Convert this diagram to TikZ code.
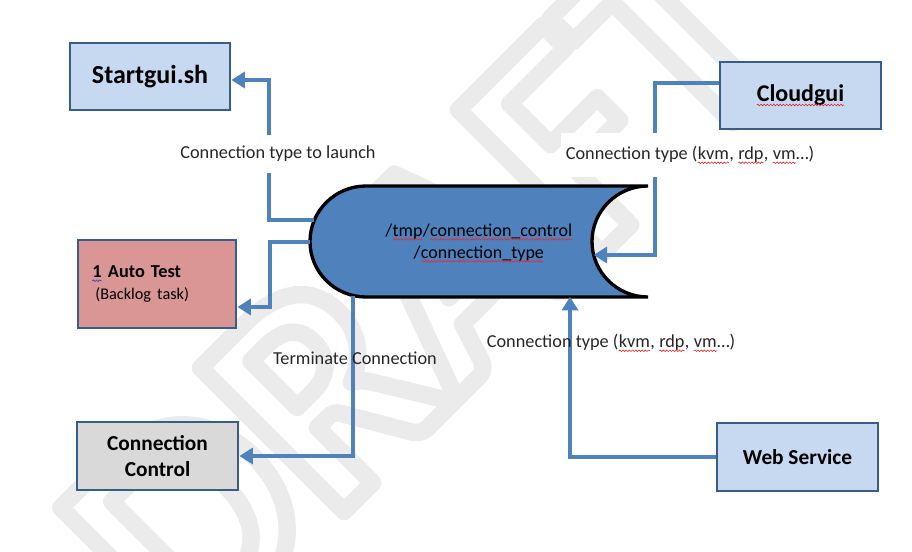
\documentclass[tikz,border=0pt]{standalone}
\usepackage{fontspec}
\setmainfont{Carlito}
\usetikzlibrary{arrows.meta,calc,decorations.pathmorphing}
\definecolor{boxblue}{HTML}{C6D9F1}
\definecolor{boxline}{HTML}{385D8A}
\definecolor{pinkfill}{HTML}{D99694}
\definecolor{grayfill}{HTML}{D9D9D9}
\definecolor{cylfill}{HTML}{4F81BD}
\definecolor{connblue}{HTML}{4F81BD}
\definecolor{wmgray}{HTML}{EBEBEB}
\definecolor{lbltext}{HTML}{262626}
\definecolor{squigred}{HTML}{E8282A}
\definecolor{squigblue}{HTML}{2E3FD6}
\newcommand\wvy[2][squigred]{\tikz[baseline=(wv.base)]{\node[inner sep=0pt,outer sep=0pt,text width=,minimum width=0pt,minimum height=0pt,draw=none,fill=none,shape=rectangle] (wv) {#2};\draw[#1,line width=0.45pt,decorate,decoration={snake,amplitude=0.6pt,segment length=2.4pt}] ([yshift=-2.4pt]wv.base west) -- ([yshift=-2.4pt]wv.base east);}}
\newcommand\outlinetext[1]{\special{pdf:literal direct 1 Tr 13 w 1 j}#1\special{pdf:literal direct 0 Tr}}
\begin{document}
\begin{tikzpicture}[x=0.75pt,y=-0.75pt,
  box/.style={draw=boxline,line width=2.2pt,fill=boxblue,inner sep=0pt},
  conn/.style={draw=connblue,line width=3pt,-{Triangle[length=10pt,width=12pt]}},
  lbl/.style={font=\fontsize{13.7}{16.5}\selectfont,text=lbltext,inner sep=2pt},
  ]
\useasboundingbox (0,0) rectangle (912,552);
\clip (0,0) rectangle (912,552);
\fill[white] (0,0) rectangle (912,552);
% watermark
\node[text=wmgray,font=\bfseries\fontsize{235}{235}\selectfont,rotate=45,inner sep=0pt] (wmk) at (425,287) {\outlinetext{DRAFT}};
% boxes
\node[box,minimum width=120pt,minimum height=50.25pt,font=\bfseries\fontsize{19.5}{23}\selectfont] (sg) at (150,76.5) {Startgui.sh};
\node[box,minimum width=120.75pt,minimum height=50.25pt,font=\bfseries\fontsize{18}{22}\selectfont] (cg) at (800.5,95.5) {\wvy{Cloudgui}};
\node[box,fill=pinkfill,minimum width=118.5pt,minimum height=66pt,text width=97.5pt,align=left,inner xsep=10.5pt,font=\fontsize{13.7}{16.5}\selectfont] (at) at (157,284) {\textbf{\wvy[squigblue]{1} Auto Test}\\\hspace*{2.5pt}{\fontsize{12.2}{16.5}\selectfont (Backlog task)}};
\node[box,fill=grayfill,minimum width=120.75pt,minimum height=51pt,align=center,font=\bfseries\fontsize{16}{20}\selectfont] (cc) at (157.5,456) {Connection\\Control};
\node[box,minimum width=120.75pt,minimum height=51pt,font=\bfseries\fontsize{16}{20}\selectfont] (ws) at (797.5,457) {Web Service};
% stored data shape
\draw[line width=2.5pt,fill=cylfill,draw=black] (366,186) -- (648,186) arc[start angle=270,end angle=90,x radius=56,y radius=55.5] -- (366,297) arc[start angle=90,end angle=270,x radius=56,y radius=55.5] -- cycle;
\node[font=\fontsize{13.5}{16.5}\selectfont,align=center,text=black] (cyl) at (479,243) {/\wvy{tmp}/\wvy{connection\_control}\\/\wvy{connection\_type}};
\coordinate (cA) at (314.4,220);
\coordinate (cB) at (310,241.5);
\coordinate (cC) at (353,295.5);
\coordinate (cD) at (593.7,255);
\coordinate (cE) at (570,297);
% connectors
\draw[conn] (cA) -| ($(sg.east)+(38,3.5)$) -- ($(sg.east)+(0,3.5)$);
\draw[conn] (cB) -| ($(at.east)+(33,23)$) -- ($(at.east)+(0,23)$);
\draw[conn] (cC) |- (cc.east);
\draw[conn] ($(cg.west)+(0,-12.5)$) -| ($(cD)+(61.3,0)$) -- (cD);
\draw[conn] (ws.west) -| (cE);
% labels
\node[lbl,fill=white,minimum height=28pt,inner xsep=4pt] (l1) at (278,154) {Connection type to launch};
\node[lbl,fill=white,minimum height=33pt,inner xsep=4pt] (l2) at (690,155) {Connection type (\wvy{kvm}, \wvy{rdp}, \wvy{vm}…)};
\node[lbl] (l3) at (355,358) {Terminate Connection};
\node[lbl] (l4) at (611,343) {Connection type (\wvy{kvm}, \wvy{rdp}, \wvy{vm}…)};
\end{tikzpicture}
\end{document}
